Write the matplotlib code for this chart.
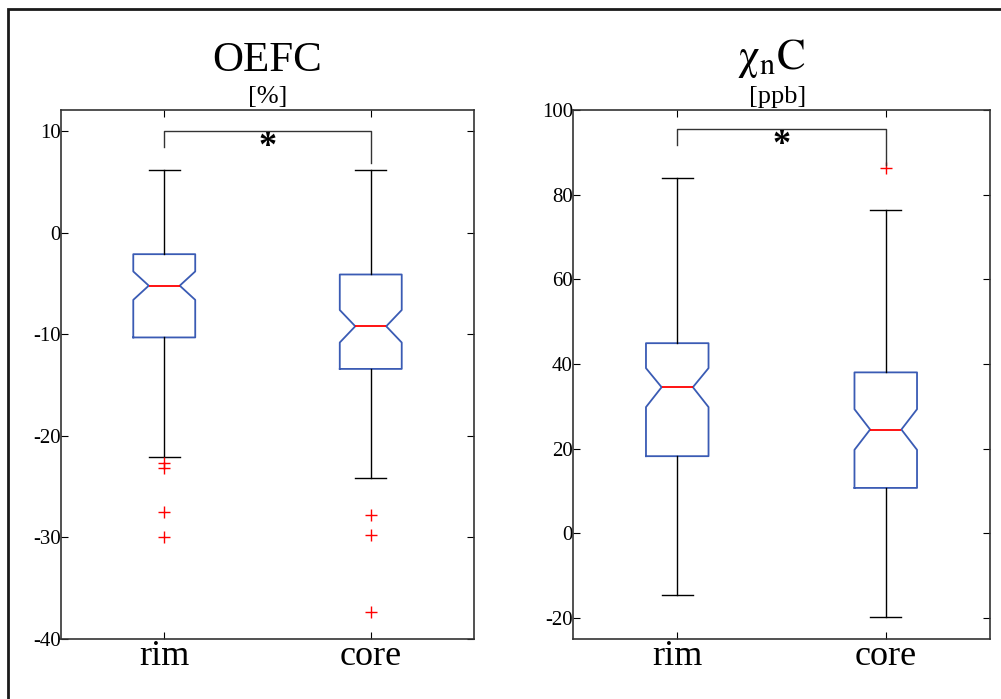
import matplotlib
matplotlib.use("Agg")
import matplotlib.pyplot as plt
from matplotlib.patches import Rectangle

plt.rcParams['font.family'] = ['Liberation Serif', 'DejaVu Serif']
plt.rcParams['mathtext.fontset'] = 'stix'
plt.rcParams['axes.unicode_minus'] = False

groups = ['rim', 'core']

# OEFC [%]
oefc_q1 = [-10.3, -13.4]
oefc_med = [-5.2, -9.2]
oefc_q3 = [-2.1, -4.1]
oefc_lo = [-22.1, -24.1]
oefc_hi = [6.2, 6.2]
oefc_cilo = [-6.6, -10.8]
oefc_cihi = [-3.8, -7.6]
oefc_fliers = [[-22.7, -23.2, -27.5, -30.0], [-27.8, -29.8, -37.3]]

# chi_n C [ppb]
chi_q1 = [18.2, 10.7]
chi_med = [34.5, 24.5]
chi_q3 = [44.9, 38.0]
chi_lo = [-14.6, -19.7]
chi_hi = [84.0, 76.4]
chi_cilo = [29.8, 19.7]
chi_cihi = [39.0, 29.3]
chi_fliers = [[], [86.3]]

# significance brackets: (bar height, left drop end, right drop end)
oefc_bracket = [10.0, 8.5, 6.9]
chi_bracket = [95.4, 91.7, 86.9]

box_blue = '#3a5bb4'


def make_stats(q1, med, q3, lo, hi, cilo, cihi, fliers):
    out = []
    for i in range(len(groups)):
        out.append(dict(label=groups[i], q1=q1[i], med=med[i], q3=q3[i],
                        whislo=lo[i], whishi=hi[i], cilo=cilo[i], cihi=cihi[i],
                        fliers=fliers[i]))
    return out


fig = plt.figure(figsize=(10.01, 6.99), dpi=100)
ax1 = fig.add_axes([61 / 1001, 1 - 639 / 699, 413 / 1001, 529 / 699])
ax2 = fig.add_axes([573 / 1001, 1 - 639 / 699, 417 / 1001, 529 / 699])

panels = [
    (ax1, make_stats(oefc_q1, oefc_med, oefc_q3, oefc_lo, oefc_hi, oefc_cilo, oefc_cihi, oefc_fliers),
     (-40, 12.1), [-40, -30, -20, -10, 0, 10], oefc_bracket),
    (ax2, make_stats(chi_q1, chi_med, chi_q3, chi_lo, chi_hi, chi_cilo, chi_cihi, chi_fliers),
     (-25, 100), [-20, 0, 20, 40, 60, 80, 100], chi_bracket),
]

for ax, stats, ylim, yticks, br in panels:
    ax.bxp(stats, positions=[1, 2], widths=0.3, shownotches=True,
           boxprops=dict(color=box_blue, lw=1.3),
           medianprops=dict(color='red', lw=1.3),
           whiskerprops=dict(color='black', lw=1.0),
           capprops=dict(color='black', lw=1.0),
           flierprops=dict(marker='+', markeredgecolor='red', markersize=8,
                           markeredgewidth=1.0, linestyle='none'))
    ax.set_xlim(0.5, 2.5)
    ax.set_ylim(*ylim)
    ax.set_yticks(yticks)
    ax.set_xticks([1, 2])
    ax.set_xticklabels(groups, fontsize=26)
    ax.tick_params(axis='y', labelsize=15, direction='in', right=True, length=5, pad=0)
    ax.tick_params(axis='x', direction='in', top=True, length=5, pad=1)
    for s in ax.spines.values():
        s.set_color('#333333')
        s.set_linewidth(1.2)
    # significance bracket
    ax.plot([1, 1, 2, 2], [br[1], br[0], br[0], br[2]], color='#333333', lw=1.0)
    ax.text(1.5, br[0], '*', fontsize=26, fontweight='bold', ha='center', va='top')

ax1.text(0.5, 1.057, 'OEFC', transform=ax1.transAxes, ha='center', va='bottom', fontsize=31)
ax1.text(0.5, 1.003, '[%]', transform=ax1.transAxes, ha='center', va='bottom', fontsize=19)
ax2.text(0.476, 1.057, r'$\mathrm{\chi}_{\mathrm{n}}\mathrm{C}$', transform=ax2.transAxes,
         ha='center', va='bottom', fontsize=31)
ax2.text(0.49, 1.003, '[ppb]', transform=ax2.transAxes, ha='center', va='bottom', fontsize=19)

# outer frame
fig.add_artist(Rectangle((8 / 1001, -0.05), 1.2, 1 - 9 / 699 + 0.05, transform=fig.transFigure,
                         fill=False, edgecolor='#1a1a1a', lw=2))

fig.savefig('out.png', dpi=100)
